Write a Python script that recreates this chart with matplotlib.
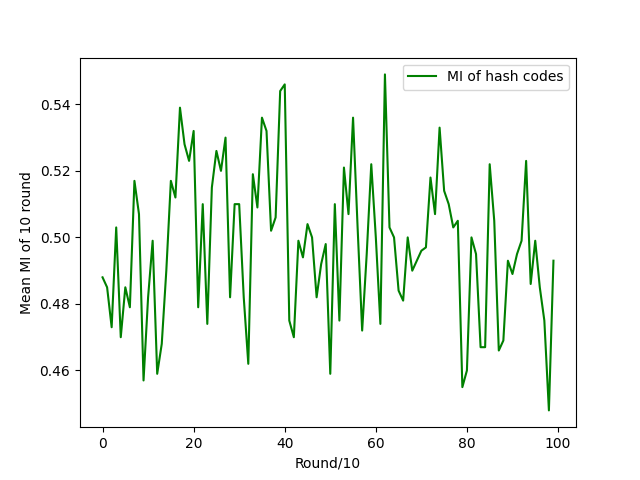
import matplotlib
matplotlib.use('Agg')
import matplotlib.pyplot as plt

# mean MI per 10 rounds
mi_values = [
    0.488, 0.485, 0.473, 0.503, 0.470, 0.485, 0.479, 0.517, 0.507, 0.457,
    0.482, 0.499, 0.459, 0.468, 0.490, 0.517, 0.512, 0.539, 0.528, 0.523,
    0.532, 0.479, 0.510, 0.474, 0.515, 0.526, 0.520, 0.530, 0.482, 0.510,
    0.510, 0.482, 0.462, 0.519, 0.509, 0.536, 0.532, 0.502, 0.506, 0.544,
    0.546, 0.475, 0.470, 0.499, 0.494, 0.504, 0.500, 0.482, 0.492, 0.498,
    0.459, 0.510, 0.475, 0.521, 0.507, 0.536, 0.503, 0.472, 0.495, 0.522,
    0.500, 0.474, 0.549, 0.503, 0.500, 0.484, 0.481, 0.500, 0.490, 0.493,
    0.496, 0.497, 0.518, 0.507, 0.533, 0.514, 0.510, 0.503, 0.505, 0.455,
    0.460, 0.500, 0.495, 0.467, 0.467, 0.522, 0.505, 0.466, 0.469, 0.493,
    0.489, 0.495, 0.499, 0.523, 0.486, 0.499, 0.485, 0.475, 0.448, 0.493,
]
rounds = list(range(len(mi_values)))

plt.figure(figsize=(6.4, 4.8))
plt.plot(rounds, mi_values, color='green', label='MI of hash codes')
plt.xlabel('Round/10')
plt.ylabel('Mean MI of 10 round')
plt.legend()
plt.savefig('out.png', dpi=100)
